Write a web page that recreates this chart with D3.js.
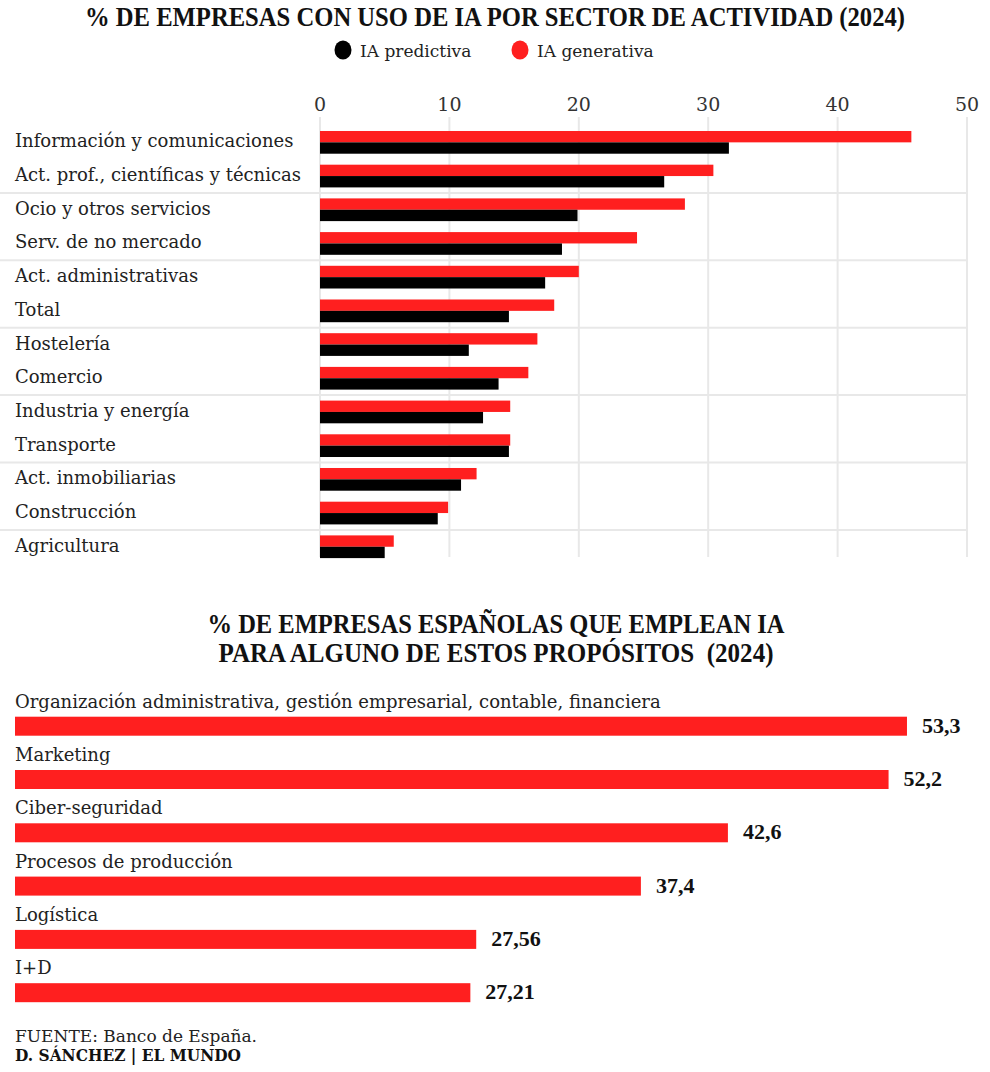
<!DOCTYPE html>
<html>
<head>
<meta charset="utf-8">
<script src="https://cdn.jsdelivr.net/npm/d3@7"></script>
<style>
  body { margin: 0; background: #fff; }
  svg { display: block; }
  text { font-family: 'DejaVu Serif', serif; fill: #222; }
  .title { font-family: 'Liberation Serif', serif; font-weight: bold; font-size: 27px; fill: #111; }
</style>
</head>
<body>
<svg width="990" height="1072"></svg>
<script>
// --- data: chart 1 (% de empresas por sector) ---
const sectors = [
  'Información y comunicaciones',
  'Act. prof., científicas y técnicas',
  'Ocio y otros servicios',
  'Serv. de no mercado',
  'Act. administrativas',
  'Total',
  'Hostelería',
  'Comercio',
  'Industria y energía',
  'Transporte',
  'Act. inmobiliarias',
  'Construcción',
  'Agricultura'
]
const generativa = [45.7, 30.4, 28.2, 24.5, 20.0, 18.1, 16.8, 16.1, 14.7, 14.7, 12.1, 9.9, 5.7]
const predictiva = [31.6, 26.6, 19.9, 18.7, 17.4, 14.6, 11.5, 13.8, 12.6, 14.6, 10.9, 9.1, 5.0]
const xTicks = [0, 10, 20, 30, 40, 50]

// --- data: chart 2 (propósitos) ---
const purposes = [
  'Organización administrativa, gestión empresarial, contable, financiera',
  'Marketing',
  'Ciber-seguridad',
  'Procesos de producción',
  'Logística',
  'I+D'
]
const purposeValues = [53.3, 52.2, 42.6, 37.4, 27.56, 27.21]

const RED = '#ff1f1f'
const BLACK = '#000000'
const GRID = '#e8e8e8'

const svg = d3.select('svg')

// title 1
svg.append('text')
  .attr('class', 'title')
  .attr('x', 495).attr('y', 26)
  .attr('text-anchor', 'middle')
  .attr('textLength', 820).attr('lengthAdjust', 'spacingAndGlyphs')
  .text('% DE EMPRESAS CON USO DE IA POR SECTOR DE ACTIVIDAD (2024)')

// legend
const legend = svg.append('g').attr('class', 'legend')
const legendItems = [
  { label: 'IA predictiva', color: BLACK, x: 343 },
  { label: 'IA generativa', color: RED, x: 520 }
]
legendItems.forEach(function (d) {
  legend.append('ellipse')
    .attr('cx', d.x).attr('cy', 50)
    .attr('rx', 8.5).attr('ry', 9.5)
    .style('fill', d.color)
  legend.append('text')
    .attr('x', d.x + 17).attr('y', 56.5)
    .style('font-size', '17px')
    .text(d.label)
})

// chart 1 scales
const x1 = d3.scaleLinear()
  .domain([0, 50])
  .range([320, 967])

const y1 = d3.scaleBand()
  .domain(sectors)
  .range([125.5, 563.6])
  .paddingInner(0.326)
  .paddingOuter(0.163)

const half = y1.bandwidth() / 2

const chart1 = svg.append('g').attr('class', 'chart1')

// vertical gridlines
chart1.selectAll('line.vgrid')
  .data(xTicks)
  .join('line')
  .attr('class', 'vgrid')
  .attr('x1', d => x1(d)).attr('x2', d => x1(d))
  .attr('y1', 117).attr('y2', 557)
  .style('stroke', GRID).style('stroke-width', 2)

// tick labels
chart1.selectAll('text.tick')
  .data(xTicks)
  .join('text')
  .attr('class', 'tick')
  .attr('x', d => x1(d)).attr('y', 111)
  .attr('text-anchor', 'middle')
  .style('font-size', '19px').style('fill', '#333')
  .text(d => d)

// separators between pairs of rows
const sepRows = sectors.filter((d, i) => i > 0 && i % 2 === 0)
const gap = y1.step() - y1.bandwidth()
chart1.selectAll('line.hsep')
  .data(sepRows)
  .join('line')
  .attr('class', 'hsep')
  .attr('x1', 0).attr('x2', x1(50))
  .attr('y1', d => y1(d) - gap / 2).attr('y2', d => y1(d) - gap / 2)
  .style('stroke', GRID).style('stroke-width', 2)

// bars
chart1.selectAll('rect.gen')
  .data(sectors)
  .join('rect')
  .attr('class', 'gen')
  .attr('x', x1(0))
  .attr('y', d => y1(d))
  .attr('width', (d, i) => x1(generativa[i]) - x1(0))
  .attr('height', half)
  .style('fill', RED)

chart1.selectAll('rect.pred')
  .data(sectors)
  .join('rect')
  .attr('class', 'pred')
  .attr('x', x1(0))
  .attr('y', d => y1(d) + half)
  .attr('width', (d, i) => x1(predictiva[i]) - x1(0))
  .attr('height', half)
  .style('fill', BLACK)

// category labels
chart1.selectAll('text.cat')
  .data(sectors)
  .join('text')
  .attr('class', 'cat')
  .attr('x', 15)
  .attr('y', d => y1(d) + half + 5)
  .style('font-size', '18px')
  .text(d => d)

// chart 2 title
const title2 = svg.append('text')
  .attr('class', 'title')
  .attr('text-anchor', 'middle')
  .style('white-space', 'pre')
title2.append('tspan')
  .attr('x', 496).attr('y', 633)
  .attr('textLength', 577).attr('lengthAdjust', 'spacingAndGlyphs')
  .text('% DE EMPRESAS ESPAÑOLAS QUE EMPLEAN IA')
title2.append('tspan')
  .attr('x', 496).attr('y', 661.5)
  .attr('textLength', 555).attr('lengthAdjust', 'spacingAndGlyphs')
  .text('PARA ALGUNO DE ESTOS PROPÓSITOS  (2024)')

const x2 = d3.scaleLinear()
  .domain([0, 60])
  .range([15, 1019.1])

const y2 = d3.scaleBand()
  .domain(purposes)
  .range([716.7, 1002.2])
  .paddingInner(0.6435)
  .paddingOuter(0)

const chart2 = svg.append('g').attr('class', 'chart2')

chart2.selectAll('rect.purpose')
  .data(purposes)
  .join('rect')
  .attr('class', 'purpose')
  .attr('x', x2(0))
  .attr('y', d => y2(d))
  .attr('width', (d, i) => x2(purposeValues[i]) - x2(0))
  .attr('height', y2.bandwidth())
  .style('fill', RED)

chart2.selectAll('text.plabel')
  .data(purposes)
  .join('text')
  .attr('class', 'plabel')
  .attr('x', 15)
  .attr('y', d => y2(d) - 9)
  .style('font-size', '18px')
  .text(d => d)

chart2.selectAll('text.pval')
  .data(purposes)
  .join('text')
  .attr('class', 'pval')
  .attr('x', (d, i) => x2(purposeValues[i]) + 15)
  .attr('y', d => y2(d) + y2.bandwidth() / 2 + 6.5)
  .style('font-family', "'Liberation Serif', serif")
  .style('font-size', '22px').style('font-weight', 'bold').style('fill', '#111')
  .text((d, i) => String(purposeValues[i]).replace('.', ','))

// footer
svg.append('text')
  .attr('x', 15).attr('y', 1042)
  .style('font-size', '17px')
  .text('FUENTE: Banco de España.')

svg.append('text')
  .attr('x', 15).attr('y', 1061)
  .attr('textLength', 226).attr('lengthAdjust', 'spacingAndGlyphs')
  .style('font-size', '17px').style('font-weight', 'bold').style('fill', '#111')
  .text('D. SÁNCHEZ | EL MUNDO')
</script>
</body>
</html>
